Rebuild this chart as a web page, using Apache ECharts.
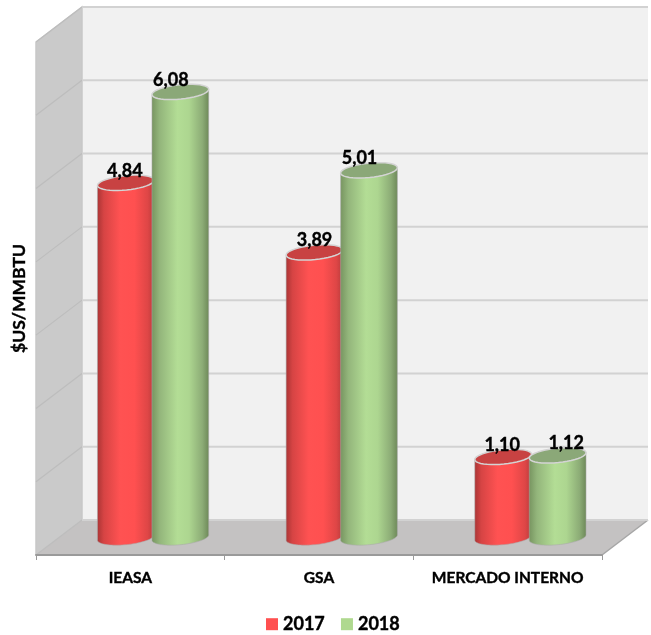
<!DOCTYPE html>
<html>
<head>
<meta charset="utf-8">
<style>html,body{margin:0;padding:0;background:#fff}#c{width:651px;height:635px}</style>
<script src="https://cdn.jsdelivr.net/npm/echarts@6/dist/echarts.min.js"></script>
</head>
<body>
<div id="c"></div>
<script>
const categories = ['IEASA', 'GSA', 'MERCADO INTERNO'];
const seriesNames = ['2017', '2018'];
const values2017 = [4.84, 3.89, 1.10];
const values2018 = [6.08, 5.01, 1.12];
const valueLabels2017 = ['4,84', '3,89', '1,10'];
const valueLabels2018 = ['6,08', '5,01', '1,12'];
const yTicks = [0, 1, 2, 3, 4, 5, 6, 7];

const FONT = 'Lato, "Open Sans", sans-serif';
const depthX = 46, depthY = -35;
const rx = 28.5, ry = 7.2, tilt = 0.1;
const heavy = { textBorderColor: '#000', textBorderWidth: 0.4 };

function ellipsePoint(cx, cy, t) {
  const c = Math.cos(t) * rx, s = Math.sin(t) * ry;
  return [cx + c * Math.cos(tilt) + s * Math.sin(tilt),
          cy - c * Math.sin(tilt) + s * Math.cos(tilt)];
}
function ellipsePath(cx, cy, from, to) {
  const pts = [];
  for (let i = 0; i <= 40; i++) pts.push(ellipsePoint(cx, cy, from + (to - from) * i / 40));
  return pts;
}
function sideGradient(stops) {
  return new echarts.graphic.LinearGradient(0, 0, 1, 0,
    stops.map(s => ({ offset: s[0], color: s[1] })));
}

function renderWalls(params, api) {
  const cs = params.coordSys;
  const yTop = api.coord([0, 7])[1], yBase = api.coord([0, 0])[1];
  const xL = cs.x, xR = cs.x + cs.width;
  return { type: 'group', children: [
    { type: 'rect', shape: { x: xL + depthX, y: yTop + depthY, width: cs.width, height: yBase - yTop },
      style: { fill: '#F1F1F1' } },
    { type: 'polygon', shape: { points: [[xL, yTop], [xL + depthX, yTop + depthY], [xL + depthX, yBase + depthY], [xL, yBase]] },
      style: { fill: '#CACACA' } },
    { type: 'polygon', shape: { points: [[xL, yBase], [xL + depthX, yBase + depthY], [xR + depthX, yBase + depthY], [xR, yBase]] },
      style: { fill: '#C4C2C2' } },
    { type: 'polyline', shape: { points: [[xL, yBase], [xL, yTop], [xL + depthX, yTop + depthY], [xL + depthX, yBase + depthY]] },
      style: { fill: null, stroke: '#C8C8C8', lineWidth: 1.5 } },
    { type: 'polyline', shape: { points: [[xR, yBase], [xR + depthX, yBase + depthY]] },
      style: { fill: null, stroke: '#A6A6A6', lineWidth: 1.5 } }
  ] };
}
function renderGrid(params, api) {
  const cs = params.coordSys;
  const y = api.coord([0, api.value(1)])[1];
  const xL = cs.x, xR = cs.x + cs.width;
  return { type: 'group', children: [
    { type: 'line', shape: { x1: xL, y1: y, x2: xL + depthX, y2: y + depthY },
      style: { stroke: '#BDBDBD', lineWidth: 1.2 } },
    { type: 'line', shape: { x1: xL + depthX, y1: y + depthY, x2: xR + depthX, y2: y + depthY },
      style: { stroke: '#D2D2D2', lineWidth: 2 } }
  ] };
}
function cylinderRenderer(shift, stops, capFill, labels, nudges) {
  return function (params, api) {
    const i = params.dataIndex;
    const p = api.coord([api.value(0), api.value(1)]);
    const b = api.coord([api.value(0), 0]);
    const cx = p[0] + depthX / 2 + shift;
    const top = p[1] + depthY / 2, base = b[1] + depthY / 2;
    const body = [ellipsePoint(cx, top, Math.PI)]
      .concat(ellipsePath(cx, base, Math.PI, 0))
      .concat([ellipsePoint(cx, top, 0)]);
    return { type: 'group', children: [
      { type: 'polygon', shape: { points: body },
        style: { fill: sideGradient(stops), stroke: 'rgba(170,170,170,0.55)', lineWidth: 1 } },
      { type: 'polygon', shape: { points: ellipsePath(cx, top, 0, Math.PI * 2) },
        style: { fill: capFill, stroke: '#D4D4D4', lineWidth: 1.5 } },
      { type: 'text', style: { x: cx + nudges[i], y: top - 12, text: labels[i], fill: '#000',
          stroke: '#000', lineWidth: 0.4,
          font: 'bold 18px ' + FONT, align: 'center', verticalAlign: 'middle' } }
    ] };
  };
}

const redStops = [[0, '#A83434'], [0.12, '#D64444'], [0.4, '#FF5252'], [0.65, '#FF5050'], [0.88, '#DE4646'], [1, '#B53A3A']];
const greenStops = [[0, '#76935F'], [0.14, '#93B57B'], [0.45, '#B3DD95'], [0.65, '#ADD690'], [0.88, '#8CAC76'], [1, '#6C8757']];

const chart = echarts.init(document.getElementById('c'), null, { renderer: 'canvas' });
chart.setOption({
  animation: false,
  backgroundColor: '#fff',
  grid: { left: 36, right: 49, top: 42, bottom: 80, containLabel: false },
  xAxis: {
    type: 'category', data: categories, boundaryGap: true,
    axisLine: { lineStyle: { color: '#9A9A9A', width: 2 } },
    axisTick: { show: true, length: 5, lineStyle: { color: '#9A9A9A', width: 1 } },
    axisLabel: Object.assign({ color: '#000', fontFamily: FONT, fontWeight: 'bold', fontSize: 15.5, margin: 15, interval: 0 }, heavy),
    z: 10
  },
  yAxis: {
    type: 'value', min: 0, max: 7, interval: 1,
    name: '$US/MMBTU', nameLocation: 'middle', nameRotate: 90, nameGap: 8,
    nameTextStyle: Object.assign({ color: '#000', fontFamily: FONT, fontWeight: 'bold', fontSize: 17.5 }, heavy),
    axisLine: { show: false }, axisTick: { show: false }, axisLabel: { show: false }, splitLine: { show: false }
  },
  legend: {
    data: seriesNames, left: 261, top: 610, itemWidth: 12, itemHeight: 12, itemGap: 16,
    icon: 'rect',
    textStyle: Object.assign({ color: '#000', fontFamily: FONT, fontWeight: 'bold', fontSize: 18 }, heavy)
  },
  series: [
    { type: 'custom', silent: true, renderItem: renderWalls, data: [[0, 0]], encode: { x: 0, y: 1 }, z: 1, clip: false },
    { type: 'custom', silent: true, renderItem: renderGrid, data: yTicks.map(v => [0, v]), encode: { x: 0, y: 1 }, z: 2, clip: false },
    { type: 'custom', name: seriesNames[0], itemStyle: { color: '#FF5050' }, z: 3, clip: false,
      renderItem: cylinderRenderer(-27.5, redStops, '#C84242', valueLabels2017, [-1, 0, -1]),
      data: values2017.map((v, i) => [i, v]), encode: { x: 0, y: 1 } },
    { type: 'custom', name: seriesNames[1], itemStyle: { color: '#AFD98F' }, z: 4, clip: false,
      renderItem: cylinderRenderer(27, greenStops, '#8BA878', valueLabels2018, [-9.5, -9.5, 8.5]),
      data: values2018.map((v, i) => [i, v]), encode: { x: 0, y: 1 } }
  ]
});
</script>
</body>
</html>
